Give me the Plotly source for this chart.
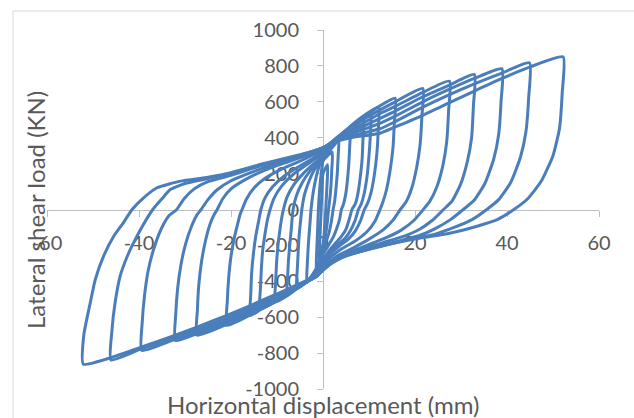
import plotly.graph_objects as go

# ---- data (horizontal displacement in mm, lateral load in kN) ----
c01_disp = [1.0, 0.9, 0.7, 0.6, 0.4, 0.2, 0.0, -0.8, -0.7, -0.5, -0.4, -0.2, 0.0, 1.0]
c01_load = [250, 150, 50, 0, -80, -150, -200, -300, -180, -60, 0, 110, 200, 250]

c02_disp = [2.0, 1.9, 1.7, 1.4, 1.2, 0.9, 0.5, 0.0, -0.8, -1.5, -1.4, -1.2, -1.0, -0.7, -0.3, 0.0, 2.0]
c02_load = [320, 220, 120, 40, 0, -80, -150, -200, -290, -365, -250, -130, 0, 120, 220, 270, 320]

c03_disp = [3.4, 3.3, 3.1, 2.8, 2.5, 2.2, 1.8, 1.3, 0.6, 0.0, -1.5, -3.5,
            -3.4, -3.2, -2.9, -2.6, -2.1, -1.4, -0.6, 0.0, 1.5, 3.4]
c03_load = [395, 300, 200, 110, 40, 0, -70, -130, -185, -230, -330, -405,
            -300, -200, -100, 0, 100, 190, 260, 300, 340, 395]

c04_disp = [5.9, 5.8, 5.6, 5.3, 4.9, 4.4, 4.0, 3.6, 3.0, 2.3, 1.3, 0.0, -1.5, -3.5, -5.7,
            -5.6, -5.4, -5.2, -4.9, -4.6, -4.0, -3.0, -1.8, -0.6, 0.0, 2.0, 4.0, 5.9]
c04_load = [455, 350, 250, 160, 80, 25, 0, -55, -105, -150, -195, -250, -340, -400, -440,
            -340, -240, -150, -70, 0, 85, 160, 225, 265, 280, 345, 405, 455]

c05_disp = [8.8, 8.7, 8.5, 8.1, 7.6, 7.0, 6.3, 5.7, 5.0, 4.0, 2.8, 1.3, 0.0, -1.5, -3.5, -5.7, -7.8,
            -7.7, -7.5, -7.2, -6.9, -6.7, -6.5, -5.8, -4.5, -2.8, -1.0, 0.0, 3.0, 6.0, 8.8]
c05_load = [515, 400, 280, 180, 90, 30, 0, -55, -110, -150, -185, -230, -280, -350, -400, -440, -480,
            -380, -280, -190, -110, -45, 0, 75, 150, 215, 265, 290, 385, 455, 515]

c06_disp = [10.4, 10.3, 10.0, 9.6, 9.0, 8.3, 7.7, 7.0, 6.0, 4.8, 3.2, 1.5, 0.0,
            -1.5, -3.5, -5.7, -7.8, -10.4,
            -10.3, -10.1, -9.8, -9.4, -9.0, -8.6, -7.8, -6.3, -4.3, -2.0, 0.0, 3.0, 6.0, 8.8, 10.4]
c06_load = [545, 420, 300, 190, 95, 30, 0, -60, -115, -160, -195, -240, -290,
            -355, -402, -440, -480, -515,
            -410, -300, -205, -120, -50, 0, 70, 140, 200, 255, 300, 390, 460, 510, 545]

c07_disp = [12.1, 12.0, 11.7, 11.2, 10.5, 9.7, 9.0, 8.2, 7.0, 5.5, 3.5, 1.5, 0.0,
            -1.5, -3.5, -5.7, -7.8, -10.4, -13.7,
            -13.6, -13.4, -13.1, -12.6, -12.1, -11.5, -10.6, -9.0, -6.5, -3.5, -1.0, 0.0,
            3.0, 6.0, 9.0, 12.1]
c07_load = [572, 440, 310, 200, 100, 35, 0, -60, -120, -165, -205, -250, -300,
            -360, -403, -439, -478, -515, -555,
            -440, -330, -225, -135, -60, 0, 65, 130, 195, 250, 295, 310,
            395, 465, 525, 572]

c08_disp = [15.7, 15.5, 15.2, 14.6, 13.8, 13.0, 12.4, 11.3, 9.5, 7.0, 4.0, 1.5, 0.0,
            -1.5, -3.5, -5.7, -7.8, -10.4, -13.7, -15.8,
            -15.7, -15.5, -15.1, -14.6, -14.0, -13.5, -12.6, -11.0, -8.5, -5.5, -2.5, 0.0,
            3.0, 6.0, 9.0, 12.4, 15.7]
c08_load = [620, 480, 340, 220, 110, 40, 0, -65, -125, -175, -220, -270, -315,
            -365, -404, -439, -477, -515, -560, -590,
            -470, -350, -240, -145, -65, 0, 65, 125, 185, 235, 280, 320,
            400, 462, 518, 578, 620]

c09_disp = [21.7, 21.5, 21.1, 20.4, 19.3, 18.0, 16.8, 15.2, 13.0, 10.0, 6.5, 3.0, 1.0, 0.0,
            -1.5, -3.5, -5.7, -7.8, -10.4, -13.7, -15.8, -20.9,
            -20.8, -20.5, -20.0, -19.3, -18.5, -18.0, -17.6, -16.6, -15.0, -12.5, -9.0, -5.0, -2.0, 0.0,
            3.0, 6.0, 9.0, 12.4, 15.7, 21.7]
c09_load = [674, 520, 360, 240, 120, 40, 0, -60, -115, -165, -215, -260, -300, -325,
            -370, -404, -438, -474, -512, -556, -587, -645,
            -510, -380, -260, -160, -75, -25, 0, 60, 120, 175, 225, 270, 305, 330,
            400, 450, 505, 555, 600, 674]

c10_disp = [27.5, 27.3, 26.9, 26.1, 24.8, 23.2, 21.8, 19.8, 17.0, 13.5, 9.0, 5.0, 2.0, 0.0,
            -1.5, -3.5, -5.7, -7.8, -10.4, -13.7, -15.8, -20.9, -27.4,
            -27.3, -27.0, -26.4, -25.6, -24.6, -23.6, -23.0, -21.8, -20.0, -17.0, -13.0, -8.0, -4.0, -1.5, 0.0,
            3.0, 6.0, 12.4, 15.7, 21.7, 27.5]
c10_load = [715, 550, 380, 250, 130, 45, 0, -60, -115, -160, -205, -245, -285, -330,
            -372, -403, -436, -470, -508, -552, -582, -640, -700,
            -560, -420, -290, -180, -85, -25, 0, 60, 115, 165, 215, 262, 298, 320, 338,
            398, 440, 535, 575, 652, 715]

c11_disp = [32.9, 32.7, 32.3, 31.4, 29.9, 28.0, 26.2, 23.8, 21.0, 17.5, 13.0, 8.0, 4.0, 1.5, 0.0,
            -1.5, -3.5, -5.7, -7.8, -10.4, -13.7, -15.8, -20.9, -27.4, -32.1,
            -32.0, -31.6, -30.9, -29.9, -28.6, -27.4, -26.5, -25.0, -23.0, -20.0, -15.0, -10.0, -5.0, -1.5, 0.0,
            3.0, 6.0, 12.4, 15.7, 21.7, 27.5, 32.9]
c11_load = [752, 580, 400, 270, 140, 45, 0, -60, -110, -150, -185, -225, -262, -300, -335,
            -375, -402, -433, -466, -503, -545, -575, -632, -692, -730,
            -580, -440, -310, -195, -95, -30, 0, 55, 110, 160, 212, 258, 297, 325, 340,
            395, 430, 508, 548, 628, 693, 752]

c12_disp = [38.9, 38.7, 38.2, 37.1, 35.2, 32.8, 30.5, 27.8, 24.5, 21.0, 17.0, 12.0, 8.0, 4.0, 1.5, 0.0,
            -1.5, -3.5, -5.7, -7.8, -10.4, -13.7, -15.8, -20.9, -27.4, -32.1, -39.4,
            -39.3, -38.8, -38.0, -36.8, -35.2, -33.5, -31.8, -30.2, -28.0, -25.0, -20.0, -13.0, -5.0, -1.5, 0.0,
            3.0, 6.0, 12.4, 15.7, 21.7, 27.5, 32.9, 38.9]
c12_load = [784, 600, 420, 280, 145, 50, 0, -55, -105, -145, -172, -205, -235, -268, -305, -338,
            -375, -400, -430, -460, -495, -535, -562, -620, -682, -722, -785,
            -630, -480, -340, -220, -110, -35, 0, 60, 115, 155, 190, 248, 300, 328, 343,
            390, 420, 480, 520, 600, 670, 730, 784]

c13_disp = [44.9, 44.7, 44.1, 42.9, 40.8, 38.2, 35.6, 32.5, 28.5, 24.0, 20.0, 15.0, 10.0, 5.0, 2.0, 0.0,
            -1.5, -3.5, -5.7, -7.8, -10.4, -13.7, -15.8, -20.9, -27.4, -32.1, -39.4, -46.1,
            -45.9, -45.2, -44.1, -42.7, -41.2, -39.2, -37.0, -35.0, -33.2, -30.0, -25.0, -20.0, -13.0, -5.0, -1.5, 0.0,
            3.0, 6.0, 12.4, 15.7, 21.7, 27.5, 32.9, 38.9, 44.9]
c13_load = [817, 620, 430, 290, 150, 55, 0, -55, -100, -140, -160, -190, -222, -258, -298, -338,
            -372, -398, -425, -452, -485, -522, -548, -605, -670, -712, -775, -838,
            -680, -520, -371, -270, -186, -90, 0, 60, 111, 145, 172, 200, 252, 303, 330, 345,
            385, 410, 450, 490, 570, 640, 700, 760, 817]

c14_disp = [52.2, 52.0, 51.4, 50.0, 47.5, 44.5, 41.5, 38.0, 33.5, 27.0, 22.0, 15.0, 10.0, 5.0, 2.0, 0.0,
            -1.5, -3.5, -5.7, -7.8, -10.4, -13.7, -15.8, -20.9, -27.4, -32.1, -39.4, -46.1, -52.1,
            -52.0, -50.6, -49.5, -47.7, -45.5, -43.4, -41.5, -39.0, -36.1, -31.0, -25.0, -20.0, -13.0, -5.0, -1.5, 0.0,
            3.0, 6.0, 12.4, 15.7, 21.7, 27.5, 32.9, 38.9, 44.9, 52.2]
c14_load = [850, 650, 450, 300, 160, 60, 0, -55, -93, -135, -155, -190, -220, -255, -295, -335,
            -370, -395, -420, -445, -475, -510, -535, -590, -655, -700, -765, -825, -862,
            -700, -520, -390, -260, -149, -74, 0, 65, 121, 158, 180, 205, 255, 305, 330, 345,
            380, 400, 425, 460, 525, 595, 660, 730, 793, 850]

cycles = [
    (c01_disp, c01_load), (c02_disp, c02_load), (c03_disp, c03_load), (c04_disp, c04_load),
    (c05_disp, c05_load), (c06_disp, c06_load), (c07_disp, c07_load), (c08_disp, c08_load),
    (c09_disp, c09_load), (c10_disp, c10_load), (c11_disp, c11_load), (c12_disp, c12_load),
    (c13_disp, c13_load), (c14_disp, c14_load),
]

x_ticks = [-60, -40, -20, 0, 20, 40, 60]
y_ticks = [-1000, -800, -600, -400, -200, 0, 200, 400, 600, 800, 1000]

LINE = "#4A7EBB"
TXT = "#595959"
AX = "#BFBFBF"
FONT = "Lato, Open Sans, sans-serif"

fig = go.Figure()
for i, (xs, ys) in enumerate(cycles):
    fig.add_trace(go.Scatter(
        x=xs, y=ys, mode="lines",
        line=dict(color=LINE, width=3, shape="spline", smoothing=0.5),
        name=f"cycle {i + 1}", showlegend=False, hoverinfo="x+y",
    ))

W, H = 634, 418
L, R, T, B = 47, 35, 30, 29
pw, ph = W - L - R, H - T - B

def px_to_paper_x(px):
    return (px - L) / pw

def py_to_paper_y(py):
    return (H - B - py) / ph

fig.update_layout(
    width=W, height=H,
    margin=dict(l=L, r=R, t=T, b=B),
    paper_bgcolor="white", plot_bgcolor="white",
    font=dict(family=FONT, color=TXT),
    showlegend=False,
    xaxis=dict(
        range=[-60, 60], tickvals=x_ticks, ticktext=[str(v) for v in x_ticks],
        showgrid=False, zeroline=False, showline=True, linecolor=AX, linewidth=1,
        ticks="outside", ticklen=6, tickcolor=AX, tickwidth=1,
        anchor="free", position=0.5, layer="below traces",
        tickfont=dict(family=FONT, size=20, color=TXT), ticklabelstandoff=9,
    ),
    yaxis=dict(
        range=[-1000, 1000], tickvals=y_ticks, ticktext=[str(v) for v in y_ticks],
        showgrid=False, zeroline=False, showline=True, linecolor=AX, linewidth=1,
        ticks="outside", ticklen=6, tickcolor=AX, tickwidth=1,
        anchor="free", position=0.5, layer="below traces",
        tickfont=dict(family=FONT, size=20, color=TXT), ticklabelstandoff=14,
    ),
    shapes=[dict(
        type="rect", xref="paper", yref="paper",
        x0=px_to_paper_x(13), x1=px_to_paper_x(W + 20),
        y0=py_to_paper_y(H + 20), y1=py_to_paper_y(11),
        line=dict(color="#D9D9D9", width=1), fillcolor="rgba(0,0,0,0)", layer="below",
    )],
    annotations=[
        dict(text="Horizontal displacement (mm)", xref="paper", yref="paper",
             x=px_to_paper_x(323), y=py_to_paper_y(404), xanchor="center", yanchor="middle",
             showarrow=False, font=dict(family=FONT, size=24, color=TXT)),
        dict(text="Lateral shear load (KN)", xref="paper", yref="paper",
             x=px_to_paper_x(35), y=py_to_paper_y(210), xanchor="center", yanchor="middle",
             textangle=-90, showarrow=False, font=dict(family=FONT, size=24, color=TXT)),
    ],
)

fig.write_html("out.html")
